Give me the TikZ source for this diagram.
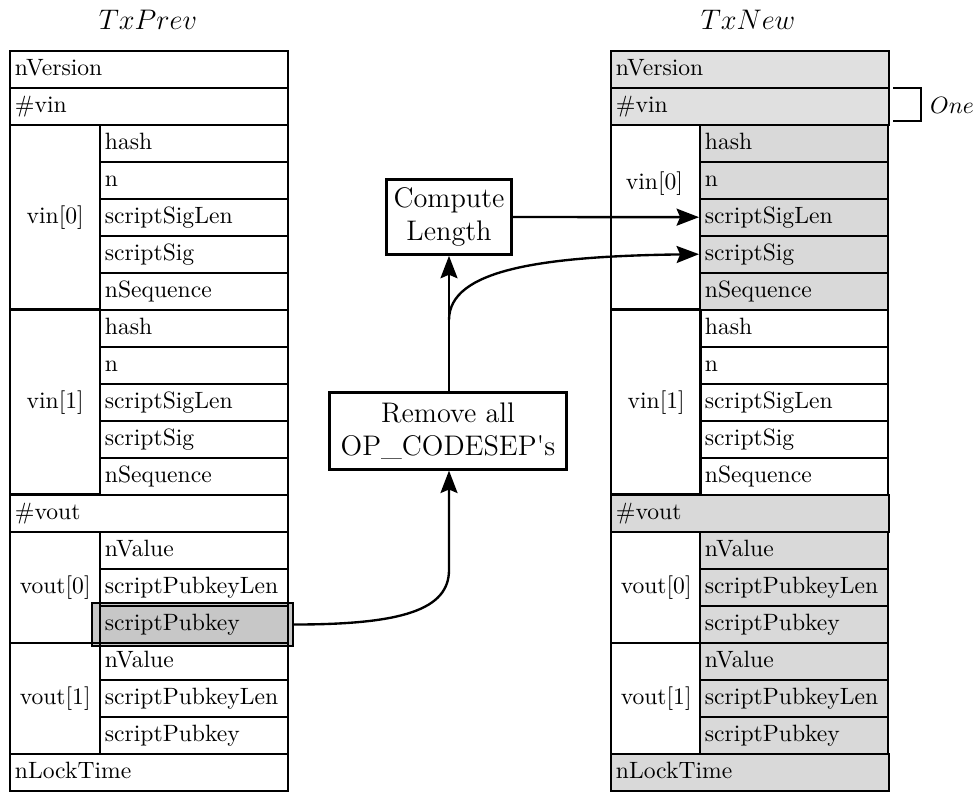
\documentclass[tikz,border=0pt]{standalone}
\usetikzlibrary{arrows.meta}
\begin{document}
\begin{tikzpicture}[x=0.4237pt,y=-0.4237pt,
  cellbase/.style={draw, line width=1pt, inner xsep=2pt, inner ysep=0pt, anchor=north west, minimum height=15.68pt, text height=7pt, text depth=2pt, align=left},
  full/.style={cellbase, text width=113.8pt},
  sub/.style={cellbase, text width=75.66pt},
  grp/.style={draw, line width=1pt, anchor=north west, minimum width=38.13pt, inner sep=0pt},
  shA/.style={fill=black!12},
  shB/.style={fill=black!15},
  opbox/.style={draw, line width=1pt, font=\large, align=center, inner sep=3pt},
  arr/.style={line width=1pt, -{Stealth[length=9.5pt,width=7.2pt,inset=1.5pt]}},
  ttl/.style={font=\large}
]
\useasboundingbox (0,0) rectangle (976,791);

% titles
\node[ttl] (tprev) at (148,20) {$TxPrev$};
\node[ttl] (tnew) at (748,20) {$TxNew$};

% highlight box behind scriptPubkey
\node[draw, line width=1pt, fill=black!22, minimum width=85.2pt, minimum height=18.2pt, inner sep=0pt] (hl) at (192.5,624.5) {};

% ---------- left table ----------
\node[full] (L0) at (9,49.5) {nVersion};
\node[full] (L1) at (9,86.5) {\#vin};
\node[grp, minimum height=78.38pt] (Lg0) at (9,123.5) {vin[0]};
\node[grp, minimum height=78.38pt] (Lg1) at (9,308.5) {vin[1]};
\node[full] (L12) at (9,493.5) {\#vout};
\node[grp, minimum height=47.03pt] (Lg2) at (9,530.5) {vout[0]};
\node[grp, minimum height=47.03pt] (Lg3) at (9,641.5) {vout[1]};
\node[full] (L19) at (9,752.5) {nLockTime};
\foreach \i/\t in {2/hash,3/n,4/scriptSigLen,5/scriptSig,6/nSequence,
                   7/hash,8/n,9/scriptSigLen,10/scriptSig,11/nSequence,
                   13/nValue,14/scriptPubkeyLen,15/scriptPubkey,
                   16/nValue,17/scriptPubkeyLen,18/scriptPubkey}
  \node[sub] (L\i) at (99,{49.5+37*\i}) {\t};

% ---------- right table ----------
\node[full, shA] (R0) at (610,49.5) {nVersion};
\node[full, shA] (R1) at (610,86.5) {\#vin};
\node[grp, minimum height=78.38pt] (Rg0) at (610,123.5) {};
\node[anchor=center] (Rg0t) at (654.5,184) {vin[0]};
\node[grp, minimum height=78.38pt] (Rg1) at (610,308.5) {vin[1]};
\node[full, shB] (R12) at (610,493.5) {\#vout};
\node[grp, minimum height=47.03pt] (Rg2) at (610,530.5) {vout[0]};
\node[grp, minimum height=47.03pt] (Rg3) at (610,641.5) {vout[1]};
\node[full, shB] (R19) at (610,752.5) {nLockTime};
\foreach \i/\t in {2/hash,3/n,4/scriptSigLen,5/scriptSig,6/nSequence,
                   13/nValue,14/scriptPubkeyLen,15/scriptPubkey,
                   16/nValue,17/scriptPubkeyLen,18/scriptPubkey}
  \node[sub, shB] (R\i) at (699,{49.5+37*\i}) {\t};
\foreach \i/\t in {7/hash,8/n,9/scriptSigLen,10/scriptSig,11/nSequence}
  \node[sub] (R\i) at (699,{49.5+37*\i}) {\t};

% "One" bracket
\coordinate (oa) at (893,88);
\coordinate (ob) at (893,121);
\draw[line width=1pt] (oa) -- (921,88) -- (921,121) -- (ob);
\node[anchor=west, inner sep=2pt] (one) at (925,105) {$One$};

% process boxes
\node[opbox, inner ysep=3.5pt] (cl) at (449,217) {Compute\\Length};
\node[opbox, inner xsep=4.7pt, inner ysep=4.3pt] (rm) at (448,431) {Remove all\\OP\_CODESEP\textquotesingle s};

% connectors
\coordinate (b1) at (449,320);
\coordinate (b2) at (449,570);
\draw[arr] (cl.east) -- (R4.west);
\draw[arr] (b1 |- rm.north) -- (cl.south);
\draw[arr] (b1) .. controls +(0,-50) and +(-159,2) .. (R5.west);
\draw[arr] (hl.east) .. controls +(107,0) and +(0,40) .. (b2) -- (b2 |- rm.south);
\end{tikzpicture}
\end{document}
